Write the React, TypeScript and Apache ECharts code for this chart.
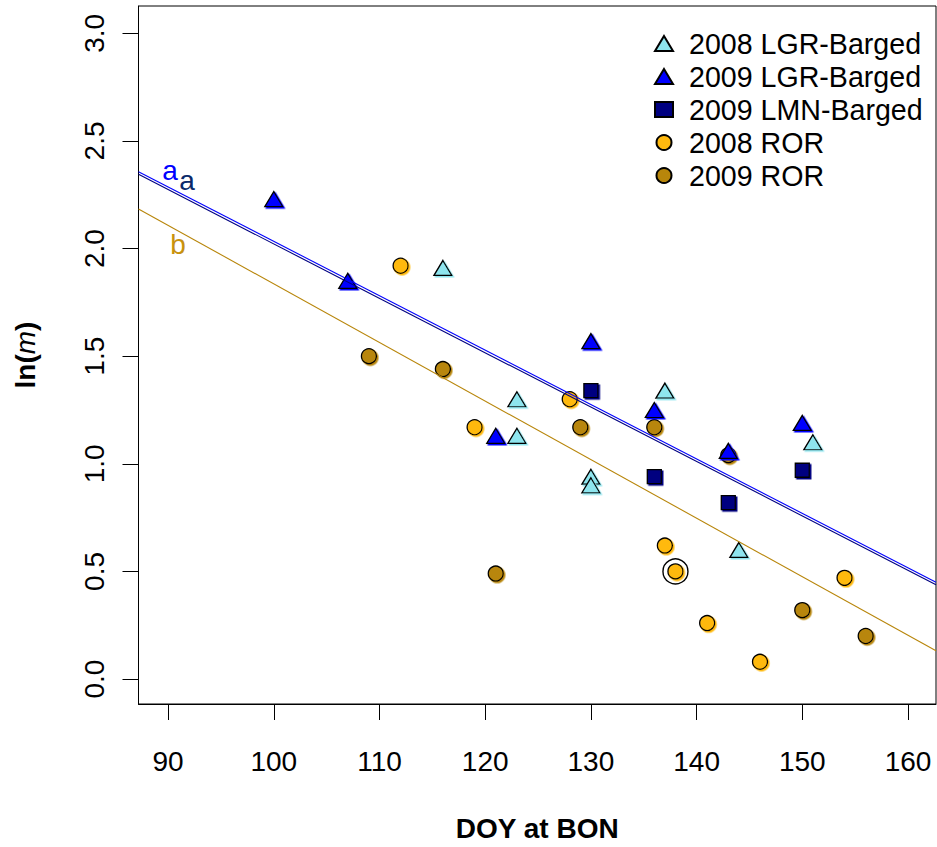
import React, { useEffect, useRef } from "react";
import * as echarts from "echarts";

const FONT = "'Liberation Sans', Arial, Helvetica, sans-serif";

// Axis ticks
const xTicks = [90, 100, 110, 120, 130, 140, 150, 160];
const yTicks = [0, 0.5, 1.0, 1.5, 2.0, 2.5, 3.0];

// Series values (DOY at BON, ln(m))
const lgr2008X = [116, 123, 123, 130, 130, 137, 144, 151];
const lgr2008Y = [1.91, 1.30, 1.13, 0.94, 0.90, 1.34, 0.60, 1.10];
const lgr2009X = [100, 107, 121, 130, 136, 143, 150];
const lgr2009Y = [2.23, 1.85, 1.13, 1.57, 1.25, 1.06, 1.19];
const lmn2009X = [130, 136, 143, 150];
const lmn2009Y = [1.34, 0.94, 0.82, 0.97];
const ror2008X = [112, 119, 128, 137, 138, 141, 146, 154];
const ror2008Y = [1.92, 1.17, 1.30, 0.62, 0.50, 0.26, 0.08, 0.47];
const ror2009X = [109, 116, 121, 129, 136, 143, 150, 156];
const ror2009Y = [1.50, 1.44, 0.49, 1.17, 1.17, 1.04, 0.32, 0.20];

// Highlighted point
const circledX = [138];
const circledY = [0.50];

// Fitted lines (end points at plot edges)
const lineX = [87.2, 162.65];
const lineA1Y = [2.357, 0.45];
const lineA2Y = [2.345, 0.438];
const lineBY = [2.184, 0.131];

// Line labels
const lineLabelText = ["a", "a", "b"];
const lineLabelX = [90.18, 91.79, 90.94];
const lineLabelY = [2.365, 2.316, 2.021];
const lineLabelColor = ["#0000FF", "#0A2A6A", "#C8920E"];

const legendNames = ["2008 LGR-Barged", "2009 LGR-Barged", "2009 LMN-Barged", "2008 ROR", "2009 ROR"];

const zip = (xs: number[], ys: number[]) => xs.map((x, i) => [x, ys[i]]);

const pointStyle = (fill: string) => ({
  color: fill,
  opacity: 1,
  borderColor: "#000",
  borderWidth: 1.3,
  shadowColor: fill,
  shadowOffsetX: 1.5,
  shadowOffsetY: 1.5,
  shadowBlur: 0,
});

export default function App() {
  const ref = useRef<HTMLDivElement>(null);
  useEffect(() => {
    if (!ref.current) return;
    const chart = echarts.init(ref.current, null, { renderer: "svg" });
    const option: any = {
      animation: false,
      textStyle: { fontFamily: FONT },
      grid: {
        left: 138.5,
        top: 6,
        right: 1,
        bottom: 143,
        show: true,
        borderColor: "#000",
        borderWidth: 1,
        containLabel: false,
        outerBoundsMode: "none",
      },
      xAxis: {
        type: "value",
        min: 87.2,
        max: 162.65,
        name: "DOY at BON",
        nameLocation: "middle",
        nameGap: 110,
        nameMoveOverlap: false,
        nameTextStyle: { fontSize: 28, fontWeight: "bold", color: "#000", fontFamily: FONT },
        axisLine: { show: true, onZero: false, lineStyle: { color: "#000", width: 1 } },
        axisTick: { show: true, customValues: xTicks, length: 16, lineStyle: { color: "#000", width: 1 } },
        axisLabel: { customValues: xTicks, fontSize: 28, color: "#000", margin: 43, fontFamily: FONT },
        splitLine: { show: false },
      },
      yAxis: {
        type: "value",
        min: -0.116,
        max: 3.127,
        name: "{b|ln(}{i|m}{b|)}",
        nameLocation: "middle",
        nameGap: 99,
        nameRotate: 90,
        nameMoveOverlap: false,
        nameTextStyle: {
          color: "#000",
          fontFamily: FONT,
          rich: {
            b: { fontSize: 28, fontWeight: "bold", color: "#000", fontFamily: FONT },
            i: { fontSize: 28, fontStyle: "italic", fontWeight: "normal", color: "#000", fontFamily: FONT },
          },
        },
        axisLine: { show: true, onZero: false, lineStyle: { color: "#000", width: 1 } },
        axisTick: { show: true, customValues: yTicks, length: 16, lineStyle: { color: "#000", width: 1 } },
        axisLabel: {
          customValues: yTicks,
          fontSize: 28,
          color: "#000",
          rotate: 90,
          margin: 30,
          fontFamily: FONT,
          formatter: (v: number) => v.toFixed(1),
        },
        splitLine: { show: false },
      },
      legend: {
        data: legendNames,
        orient: "vertical",
        left: 649,
        top: 24,
        itemWidth: 18,
        itemHeight: 15,
        itemGap: 4,
        textStyle: { fontSize: 28.6, color: "#000", fontFamily: FONT, lineHeight: 28, padding: [0, 0, 0, 11] },
        selectedMode: false,
      },
      series: [
        {
          name: "2008 ROR",
          type: "scatter",
          symbol: "circle",
          symbolSize: 15,
          data: zip(ror2008X, ror2008Y),
          itemStyle: pointStyle("#FFB90F"),
          z: 2,
        },
        {
          name: "2009 ROR",
          type: "scatter",
          symbol: "circle",
          symbolSize: 15,
          data: zip(ror2009X, ror2009Y),
          itemStyle: pointStyle("#B8860B"),
          z: 2,
        },
        {
          name: "2008 LGR-Barged",
          type: "scatter",
          symbol: "triangle",
          symbolSize: [18, 15],
          data: zip(lgr2008X, lgr2008Y),
          itemStyle: pointStyle("#8EE5EE"),
          z: 2,
        },
        {
          name: "2009 LGR-Barged",
          type: "scatter",
          symbol: "triangle",
          symbolSize: [18, 15],
          data: zip(lgr2009X, lgr2009Y),
          itemStyle: pointStyle("#0000FF"),
          z: 2,
        },
        {
          name: "2009 LMN-Barged",
          type: "scatter",
          symbol: "rect",
          symbolSize: 14,
          data: zip(lmn2009X, lmn2009Y),
          itemStyle: pointStyle("#000080"),
          z: 2,
        },
        {
          name: "circled",
          type: "scatter",
          symbol: "circle",
          symbolSize: 25,
          data: zip(circledX, circledY),
          itemStyle: { color: "transparent", opacity: 1, borderColor: "#000", borderWidth: 1.4 },
          z: 2,
          silent: true,
        },
        {
          name: "lineA1",
          type: "line",
          data: zip(lineX, lineA1Y),
          symbol: "none",
          lineStyle: { color: "#0000FF", width: 1.1, opacity: 1 },
          z: 3,
          silent: true,
        },
        {
          name: "lineA2",
          type: "line",
          data: zip(lineX, lineA2Y),
          symbol: "none",
          lineStyle: { color: "#000080", width: 1.1, opacity: 1 },
          z: 3,
          silent: true,
        },
        {
          name: "lineB",
          type: "line",
          data: zip(lineX, lineBY),
          symbol: "none",
          lineStyle: { color: "#B8860B", width: 1.1, opacity: 1 },
          z: 3,
          silent: true,
        },
        {
          name: "lineLabels",
          type: "scatter",
          symbolSize: 1,
          itemStyle: { color: "transparent", opacity: 1 },
          silent: true,
          z: 4,
          data: lineLabelText.map((t, i) => ({
            name: t,
            value: [lineLabelX[i], lineLabelY[i]],
            label: { color: lineLabelColor[i], opacity: 1 },
          })),
          label: {
            show: true,
            position: "inside",
            formatter: (p: any) => p.name,
            fontSize: 28,
            fontFamily: FONT,
            opacity: 1,
          },
        },
      ],
    };
    chart.setOption(option);
    return () => chart.dispose();
  }, []);
  return (
    <div
      ref={ref}
      style={{ position: "absolute", left: 0, top: 0, width: 937, height: 847, background: "#fff" }}
    />
  );
}
